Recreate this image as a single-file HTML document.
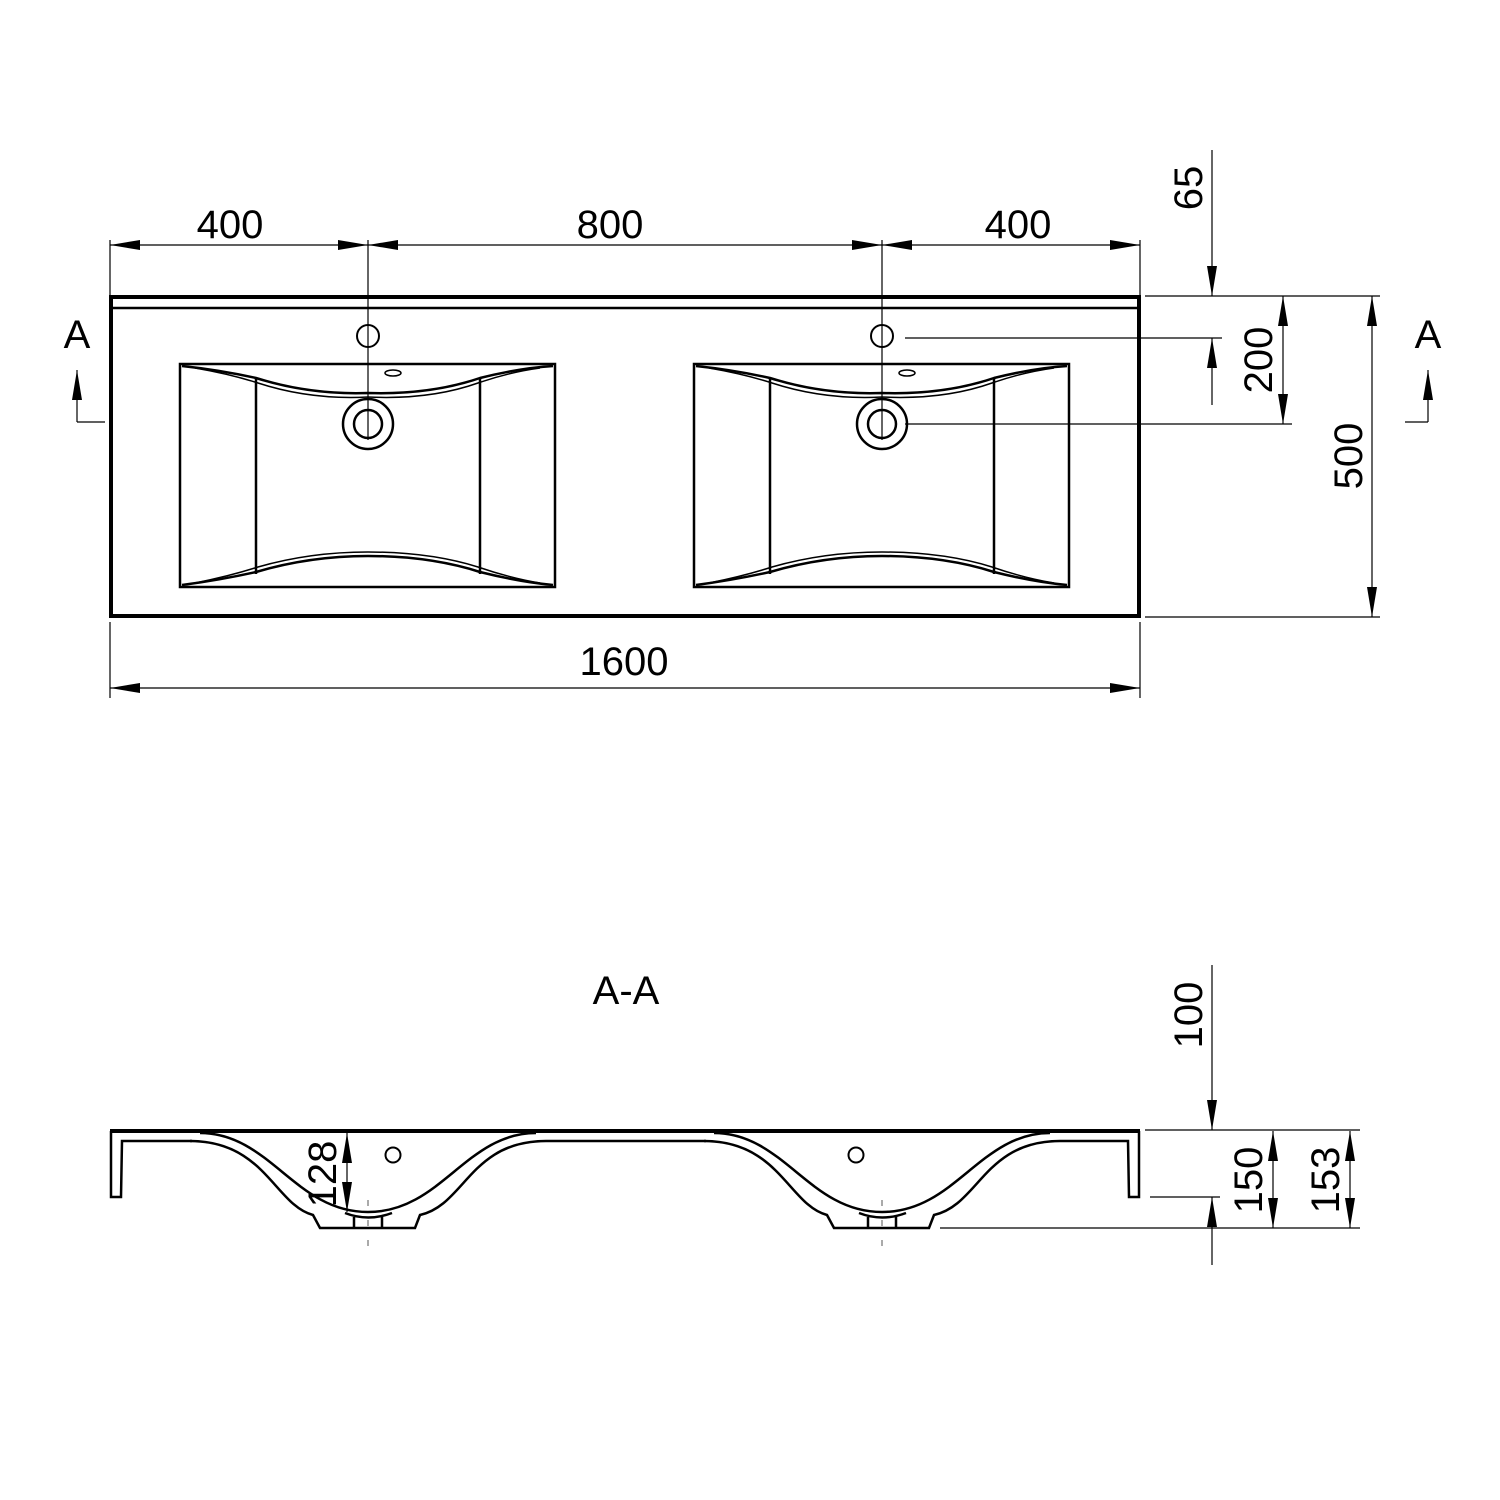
<!DOCTYPE html>
<html><head><style>html,body{margin:0;padding:0;background:#fff}svg{display:block}text{font-family:"Liberation Sans",sans-serif;font-size:40px;fill:#000}</style></head><body>
<svg width="1500" height="1500" viewBox="0 0 1500 1500" xmlns="http://www.w3.org/2000/svg">
<defs>
<marker id="a" viewBox="0 0 30 10" refX="30" refY="5" markerWidth="30" markerHeight="10" markerUnits="userSpaceOnUse" orient="auto-start-reverse"><path d="M0,0 L30,5 L0,10 z" fill="#000"/></marker>
</defs>
<g fill="none" stroke="#000">
<!-- top view -->
<rect x="111" y="297" width="1028" height="319" stroke-width="4"/>
<line x1="111" y1="308" x2="1139" y2="308" stroke-width="2.5"/>
<g id="sink" stroke-width="2.5">
<rect x="180" y="364" width="375" height="223"/>
<line x1="256" y1="378" x2="256" y2="574"/>
<line x1="480" y1="378" x2="480" y2="574"/>
<path d="M182 366 Q220 370 256 378 Q310 395 368 393 Q430 395 480 378 Q520 368 553 366"/>
<path d="M195 368 Q230 374 258 383 Q310 400 368 397 Q430 400 478 383 Q510 372 540 368" stroke-width="1.5"/>
<path d="M182 585 Q220 580 256 572 Q310 556 368 556 Q430 556 480 572 Q520 582 553 585"/>
<path d="M195 583 Q230 576 258 567 Q310 552 368 552 Q430 552 478 567 Q510 578 540 583" stroke-width="1.5"/>
<circle cx="368" cy="336" r="11" stroke-width="2"/>
<circle cx="368" cy="424" r="25"/>
<circle cx="368" cy="424" r="14"/>
<ellipse cx="393" cy="373" rx="8" ry="3" stroke-width="1.5"/>
</g>
<use href="#sink" x="514"/>
<!-- dims top -->
<g stroke-width="1.2">
<line x1="110" y1="240" x2="110" y2="296"/><line x1="368" y1="240" x2="368" y2="440"/>
<line x1="882" y1="240" x2="882" y2="440"/><line x1="1140" y1="240" x2="1140" y2="296"/>
<line x1="110" y1="245" x2="368" y2="245" marker-start="url(#a)" marker-end="url(#a)"/>
<line x1="368" y1="245" x2="882" y2="245" marker-start="url(#a)" marker-end="url(#a)"/>
<line x1="882" y1="245" x2="1140" y2="245" marker-start="url(#a)" marker-end="url(#a)"/>
<line x1="110" y1="622" x2="110" y2="698"/><line x1="1140" y1="622" x2="1140" y2="698"/>
<line x1="110" y1="688" x2="1140" y2="688" marker-start="url(#a)" marker-end="url(#a)"/>
<line x1="1145" y1="296" x2="1380" y2="296"/>
<line x1="1145" y1="617" x2="1380" y2="617"/>
<line x1="905" y1="338" x2="1222" y2="338"/>
<line x1="905" y1="424" x2="1292" y2="424"/>
<line x1="1212" y1="150" x2="1212" y2="296" marker-end="url(#a)"/>
<line x1="1212" y1="405" x2="1212" y2="338" marker-end="url(#a)"/>
<line x1="1283" y1="296" x2="1283" y2="424" marker-start="url(#a)" marker-end="url(#a)"/>
<line x1="1372" y1="296" x2="1372" y2="617" marker-start="url(#a)" marker-end="url(#a)"/>
<line x1="77" y1="422" x2="105" y2="422"/><line x1="77" y1="422" x2="77" y2="370" marker-end="url(#a)"/>
<line x1="1405" y1="422" x2="1428" y2="422"/><line x1="1428" y1="422" x2="1428" y2="370" marker-end="url(#a)"/>
</g>
<!-- section -->
<g stroke-width="2.5">
<line x1="110" y1="1131" x2="1140" y2="1131" stroke-width="4"/>
<path d="M111 1131 L111 1197 L121 1197 L122 1141 L192 1141"/>
<path d="M1139 1131 L1139 1197 L1129 1197 L1128 1141 L1060 1141"/>
<line x1="546" y1="1141" x2="706" y2="1141"/>
<g id="bowl">
<path d="M200 1133 C270 1133 295 1212 368 1212 C441 1212 466 1133 536 1133"/>
<path d="M190 1141 C265 1141 275 1205 313 1215 L320 1228 L415 1228 L420 1215 C465 1205 470 1141 546 1141"/>
<path d="M345 1213 Q368 1222 392 1213 M354 1217 L354 1228 M382 1217 L382 1228"/>
<line x1="368" y1="1200" x2="368" y2="1250" stroke-width="1" stroke-dasharray="6,14" stroke="#555"/>
</g>
<use href="#bowl" x="514"/>
<circle cx="393" cy="1155" r="7.5" stroke-width="2"/>
<circle cx="856" cy="1155" r="7.5" stroke-width="2"/>
</g>
<g stroke-width="1.2">
<line x1="1145" y1="1130" x2="1360" y2="1130"/>
<line x1="1150" y1="1197" x2="1220" y2="1197"/>
<line x1="940" y1="1228" x2="1360" y2="1228"/>
<line x1="1212" y1="965" x2="1212" y2="1130" marker-end="url(#a)"/>
<line x1="1212" y1="1265" x2="1212" y2="1197" marker-end="url(#a)"/>
<line x1="1273" y1="1131" x2="1273" y2="1228" marker-start="url(#a)" marker-end="url(#a)"/>
<line x1="1350" y1="1131" x2="1350" y2="1228" marker-start="url(#a)" marker-end="url(#a)"/>
<line x1="347" y1="1133" x2="347" y2="1212" marker-start="url(#a)" marker-end="url(#a)"/>
</g>
</g>
<text x="230" y="238" text-anchor="middle">400</text>
<text x="610" y="238" text-anchor="middle">800</text>
<text x="1018" y="238" text-anchor="middle">400</text>
<text x="624" y="675" text-anchor="middle">1600</text>
<text x="77" y="348" text-anchor="middle">A</text>
<text x="1428" y="348" text-anchor="middle">A</text>
<text transform="translate(1202,188) rotate(-90)" text-anchor="middle">65</text>
<text transform="translate(1272,360) rotate(-90)" text-anchor="middle">200</text>
<text transform="translate(1362,456) rotate(-90)" text-anchor="middle">500</text>
<text x="626" y="1004" text-anchor="middle">A-A</text>
<text transform="translate(1202,1015) rotate(-90)" text-anchor="middle">100</text>
<text transform="translate(1262,1180) rotate(-90)" text-anchor="middle">150</text>
<text transform="translate(1339,1180) rotate(-90)" text-anchor="middle">153</text>
<text transform="translate(336,1174) rotate(-90)" text-anchor="middle">128</text>
</svg>
</body></html>
